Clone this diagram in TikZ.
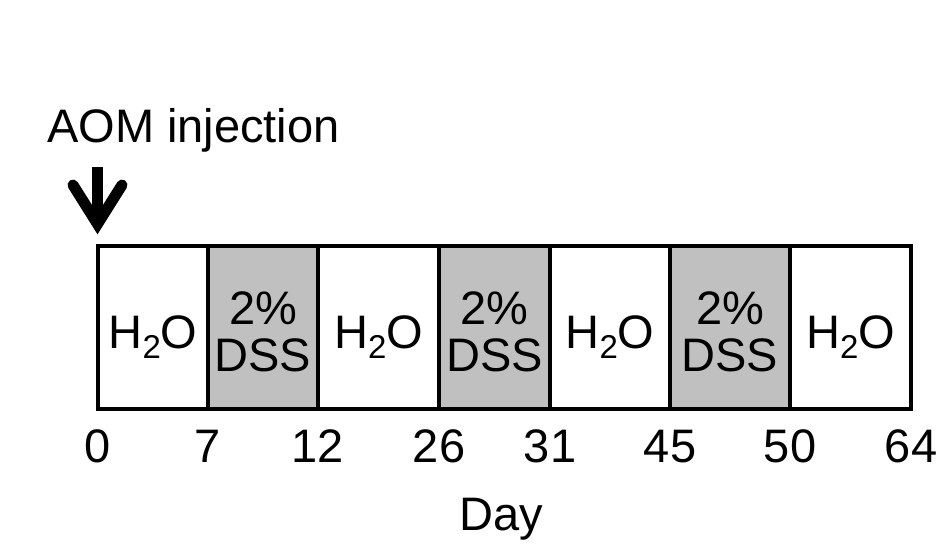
\documentclass[tikz,border=0pt]{standalone}
\usepackage{fontspec}
\setmainfont{Liberation Sans}
\definecolor{dssgray}{RGB}{192,192,192}
\newcommand{\water}{H\raisebox{-10pt}{\fontsize{33}{33}\selectfont 2}O}

\begin{document}
\begin{tikzpicture}[x=1pt, y=-1pt,
    every node/.style={font=\fontsize{47}{47}\selectfont, inner sep=0pt},
    cell/.style={line width=4.3pt},
    pointer/.style={line width=11pt, line join=miter}]
    \useasboundingbox (0,0) rectangle (949,559);

    % AOM injection and arrow
    \node[anchor=base west] (aom) at (47,142) {AOM injection};
    \coordinate (inj) at (97.5,167);
    \coordinate (start) at (97.5,224);
    \draw[pointer] (inj) -- (start);
    \draw[pointer, line cap=round] ([xshift=-24.5pt, yshift=39pt]start) -- (start) -- ([xshift=24.5pt, yshift=39pt]start);

    % water periods
    \foreach \xa/\xb/\n in {98/208/1, 318/439/2, 550/670/3, 790/911/4} {
        \draw[cell] (\xa,246) rectangle (\xb,409);
        \node[anchor=base] (water\n) at ({(\xa+\xb)/2},348) {\water};
    }

    % DSS periods
    \foreach \xa/\xb/\n in {208/318/1, 439/550/2, 670/790/3} {
        \draw[cell, fill=dssgray] (\xa,246) rectangle (\xb,409);
        \node[align=center] (dss\n) at ({(\xa+\xb)/2},332) {2\%\\DSS};
    }

    % days
    \foreach \x/\d in {98/0, 208/7, 318/12, 439/26, 550/31, 670/45, 790/50, 911/64}
        \node[anchor=base] (day\d) at (\x,462) {\d};
    \node[anchor=base] (daylabel) at (501,530) {Day};
\end{tikzpicture}
\end{document}
